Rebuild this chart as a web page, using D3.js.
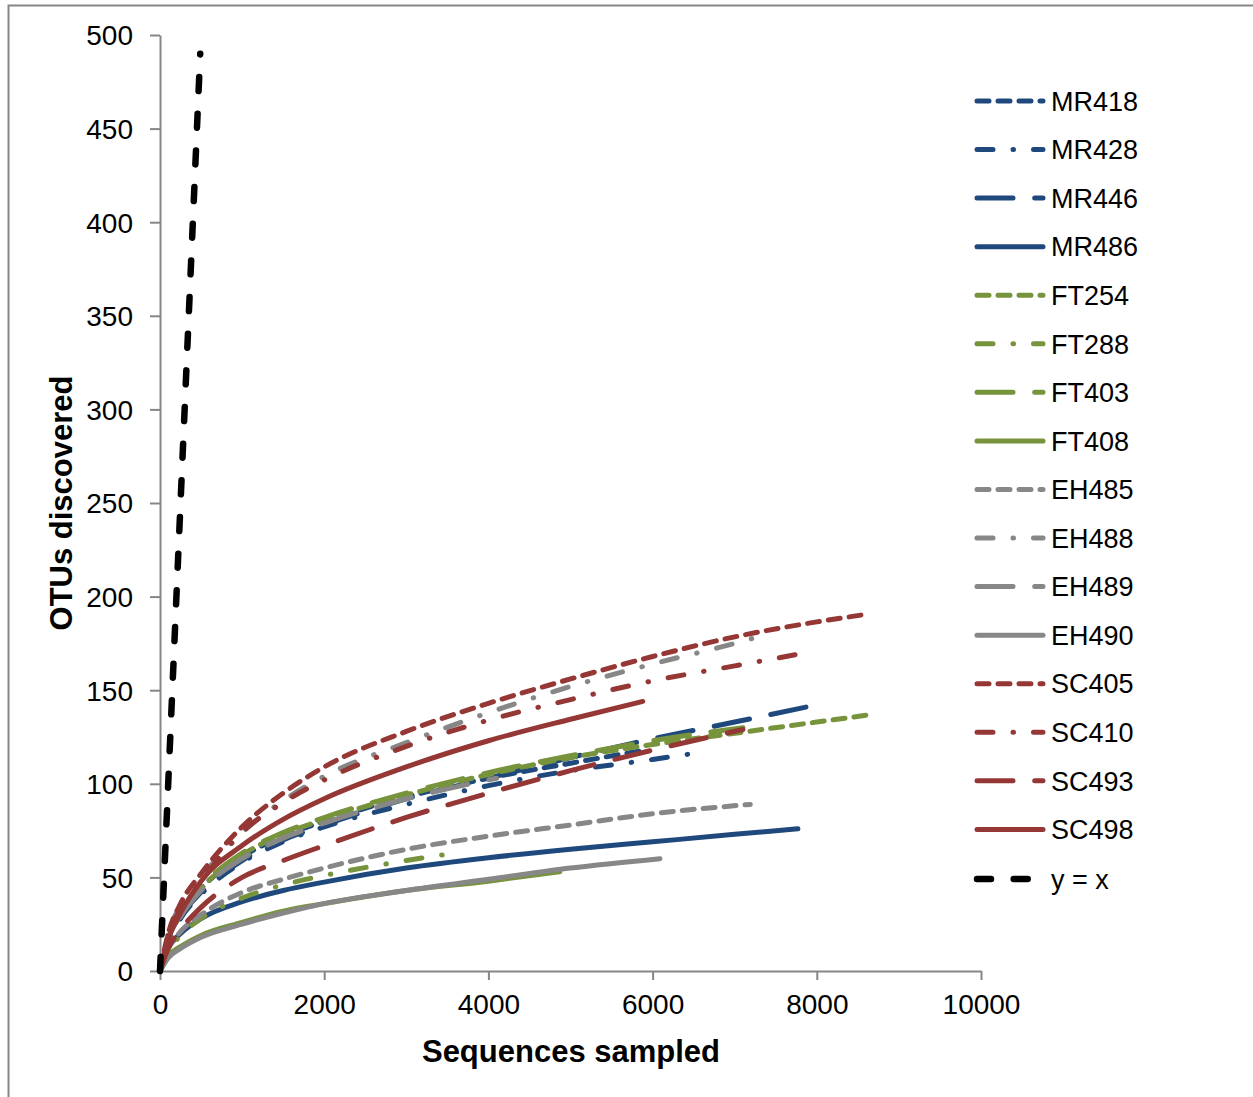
<!DOCTYPE html>
<html>
<head>
<meta charset="utf-8">
<script src="https://cdn.jsdelivr.net/npm/d3@7"></script>
<style>
  html, body { margin: 0; padding: 0; background: #fff; }
  svg { display: block; font-family: "Liberation Sans", Arial, sans-serif; }
</style>
</head>
<body>
<svg id="chart" width="1253" height="1097"></svg>
<script>
// ---------------------------------------------------------------------------
// Data: [sequences sampled, OTUs discovered]
// ---------------------------------------------------------------------------
const MR418 = [[0,0],[100,17],[250,30],[500,44],[1000,61],[1500,72],[2000,80],[3000,93],[4000,103],[5000,111],[5900,118]];
const MR428 = [[0,0],[100,16],[250,28],[500,41],[1000,58],[1500,69],[2000,77],[3000,89],[4000,99],[5000,107],[6000,113],[6470,116]];
const MR446 = [[0,0],[100,16],[250,29],[500,42],[1000,59],[1500,70],[2000,78],[3000,92],[4000,103],[5000,114],[6000,124],[7000,133],[7870,141]];
const MR486 = [[0,0],[100,12],[250,20],[500,28],[1000,37],[1500,43],[2000,47.5],[3000,55],[4000,60.5],[5000,65],[6000,69],[7000,73],[7770,76]];
const FT254 = [[0,0],[100,17],[250,30],[500,44],[1000,62],[1500,73],[2000,81],[3000,94],[4000,105],[5000,114],[6000,121],[7000,127],[8000,133],[8670,137]];
const FT288 = [[0,0],[100,10],[250,19],[500,28],[1000,39],[1500,46],[2000,51],[3000,59],[3590,63]];
const FT403 = [[0,0],[100,17],[250,31],[500,45],[1000,63],[1500,74],[2000,82],[3000,95],[4000,106],[5000,115],[6000,123],[7100,130]];
const FT408 = [[0,0],[100,8],[250,13],[500,19],[1000,26],[1500,32],[2000,36],[3000,43],[4000,48],[4870,53]];
const EH485 = [[0,0],[100,12],[250,21],[500,30],[1000,42],[1500,49],[2000,55],[3000,65],[4000,72],[5000,78],[6000,84],[7190,89]];
const EH488 = [[0,0],[100,20],[250,35],[500,50],[1000,74],[1500,91],[2000,104],[3000,122],[4000,138],[5000,152],[6000,164],[7000,175],[7400,180]];
const EH489 = [[0,0],[100,16],[250,29],[500,43],[1000,60],[1500,71],[2000,79],[3000,92],[4100,103]];
const EH490 = [[0,0],[100,7],[250,12],[500,18],[1000,25],[1500,31],[2000,36],[3000,43],[4000,49],[5000,55],[6090,60]];
const SC405 = [[0,0],[100,20],[250,36],[500,52],[1000,77],[1500,95],[2000,109],[3000,128],[4000,143],[5000,156],[6000,168],[7000,178.5],[8000,186.5],[8600,190.5]];
const SC410 = [[0,0],[100,19],[250,33],[500,48],[1000,74],[1500,90],[2000,102],[3000,120],[4000,134],[5000,145],[6000,155],[7000,163],[7870,170]];
const SC493 = [[0,0],[100,12],[250,22],[500,34],[1000,50],[1500,59],[2000,67],[3000,82],[4000,95],[5000,107],[6000,118],[7100,129]];
const SC498 = [[0,0],[100,17],[250,31],[500,48],[1000,67],[1500,81],[2000,92],[3000,109],[4000,123],[5000,134.5],[5880,144]];
const YEQX  = [[0,0],[490,490]];

const X_TICKS = [0, 2000, 4000, 6000, 8000, 10000];
const Y_TICKS = [0, 50, 100, 150, 200, 250, 300, 350, 400, 450, 500];

// ---------------------------------------------------------------------------
// Styles
// ---------------------------------------------------------------------------
const BLUE = "#1F497D", GREEN = "#77933C", GRAY = "#878787", RED = "#953735";
const DASH = {
  short:   "12,9",
  dashdot: "16,20,0.5,20",
  long:    "36,21.7",
  solid:   null,
};

const series = [
  { name: "MR418", data: MR418, color: BLUE,  dash: DASH.short },
  { name: "MR428", data: MR428, color: BLUE,  dash: DASH.dashdot },
  { name: "MR446", data: MR446, color: BLUE,  dash: DASH.long },
  { name: "MR486", data: MR486, color: BLUE,  dash: DASH.solid },
  { name: "FT254", data: FT254, color: GREEN, dash: DASH.short },
  { name: "FT288", data: FT288, color: GREEN, dash: DASH.dashdot },
  { name: "FT403", data: FT403, color: GREEN, dash: DASH.long },
  { name: "FT408", data: FT408, color: GREEN, dash: DASH.solid },
  { name: "EH485", data: EH485, color: GRAY,  dash: DASH.short },
  { name: "EH488", data: EH488, color: GRAY,  dash: DASH.dashdot },
  { name: "EH489", data: EH489, color: GRAY,  dash: DASH.long },
  { name: "EH490", data: EH490, color: GRAY,  dash: DASH.solid },
  { name: "SC405", data: SC405, color: RED,   dash: DASH.short },
  { name: "SC410", data: SC410, color: RED,   dash: DASH.dashdot },
  { name: "SC493", data: SC493, color: RED,   dash: DASH.long },
  { name: "SC498", data: SC498, color: RED,   dash: DASH.solid },
  { name: "y = x", data: YEQX,  color: "#000", dash: "14,22.7", width: 6.5 },
];

// ---------------------------------------------------------------------------
// Layout
// ---------------------------------------------------------------------------
const svg = d3.select("#chart");
const AXIS = "#868686";

// outer chart frame (right/bottom edges run off the picture)
svg.append("rect")
  .attr("x", 8.5).attr("y", 5.5)
  .attr("width", 1400).attr("height", 1200)
  .attr("fill", "none").attr("stroke", AXIS).attr("stroke-width", 2);

const x = d3.scaleLinear().domain([0, 10000]).range([160, 981]);
const y = d3.scaleLinear().domain([0, 500]).range([971, 35]);

// y axis
const gy = svg.append("g")
  .attr("transform", "translate(160,0)")
  .call(d3.axisLeft(y).tickValues(Y_TICKS).tickSize(10).tickSizeOuter(0).tickPadding(17));
// x axis
const gx = svg.append("g")
  .attr("transform", "translate(0,971)")
  .call(d3.axisBottom(x).tickValues(X_TICKS).tickFormat(d3.format("d"))
    .tickSize(9).tickSizeOuter(0).tickPadding(14));

[gx, gy].forEach(g => {
  g.selectAll("path, line").attr("stroke", AXIS).attr("stroke-width", 2);
  g.selectAll("text")
    .attr("fill", "#000")
    .attr("font-size", 28)
    .attr("font-family", "Liberation Sans, Arial, sans-serif");
});
gy.selectAll("text").attr("dy", "0.35em");

// axis titles
svg.append("text")
  .attr("x", 571).attr("y", 1062)
  .attr("text-anchor", "middle")
  .attr("font-size", 31).attr("font-weight", "bold")
  .text("Sequences sampled");

svg.append("text")
  .attr("transform", "translate(72,503) rotate(-90)")
  .attr("text-anchor", "middle")
  .attr("font-size", 31).attr("font-weight", "bold")
  .text("OTUs discovered");

// ---------------------------------------------------------------------------
// Curves
// ---------------------------------------------------------------------------
const line = d3.line()
  .x(d => x(d[0]))
  .y(d => y(d[1]))
  .curve(d3.curveMonotoneX);

svg.append("g").selectAll("path")
  .data(series)
  .join("path")
  .attr("d", d => line(d.data))
  .attr("fill", "none")
  .attr("stroke", d => d.color)
  .attr("stroke-width", d => d.width || 5)
  .attr("stroke-linecap", "round")
  .attr("stroke-dasharray", d => d.dash);

// ---------------------------------------------------------------------------
// Legend
// ---------------------------------------------------------------------------
const LEG_Y0 = 101, LEG_DY = 48.56;
const leg = svg.append("g").selectAll("g")
  .data(series)
  .join("g")
  .attr("transform", (d, i) => `translate(0,${LEG_Y0 + i * LEG_DY + (d.name === "y = x" ? 1 : 0)})`);

leg.append("line")
  .attr("x1", 977).attr("x2", 1043)
  .attr("stroke", d => d.color)
  .attr("stroke-width", d => d.width || 5)
  .attr("stroke-linecap", "round")
  .attr("stroke-dasharray", d => d.dash);

leg.append("text")
  .attr("x", 1051).attr("dy", "0.36em")
  .attr("font-size", 27)
  .text(d => d.name);
</script>
</body>
</html>
